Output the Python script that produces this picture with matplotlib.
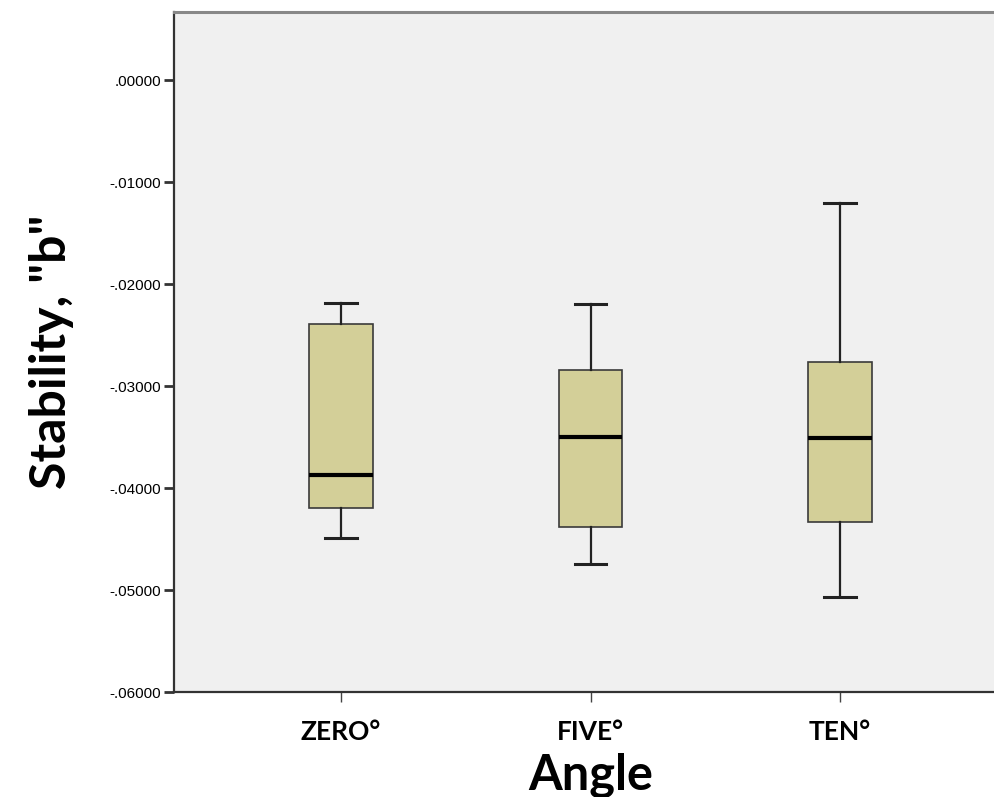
import matplotlib
matplotlib.use("Agg")
import matplotlib.pyplot as plt
from matplotlib.ticker import FuncFormatter, FixedLocator

categories = ["ZERO°", "FIVE°", "TEN°"]
whisker_low = [-0.0449, -0.04745, -0.05069]
q1 = [-0.04196, -0.04382, -0.04333]
median = [-0.03873, -0.03500, -0.03510]
q3 = [-0.02392, -0.02843, -0.02765]
whisker_high = [-0.02186, -0.02196, -0.01206]
yticks = [0.0, -0.01, -0.02, -0.03, -0.04, -0.05, -0.06]

W, H = 994, 797
fig = plt.figure(figsize=(W / 100, H / 100), dpi=100)
left, right, top, bottom = 174, 1007, 12, 692
ax = fig.add_axes([left / W, (H - bottom) / H, (right - left) / W, (bottom - top) / H])
ax.set_facecolor("#F0F0F0")

stats = []
for i, c in enumerate(categories):
    stats.append(dict(label=c, whislo=whisker_low[i], q1=q1[i], med=median[i],
                      q3=q3[i], whishi=whisker_high[i], fliers=[]))

positions = list(range(1, len(categories) + 1))
ax.bxp(stats, positions=positions, widths=0.255, capwidths=0.128,
       patch_artist=True, showfliers=False,
       boxprops=dict(facecolor="#D3CF98", edgecolor="#3a3a3a", linewidth=1.2),
       medianprops=dict(color="black", linewidth=3),
       whiskerprops=dict(color="#222222", linewidth=1.6),
       capprops=dict(color="#222222", linewidth=2.2))

ax.set_xlim(0.331, 3.669)
ax.set_ylim(-0.06, 0.00667)

ax.yaxis.set_major_locator(FixedLocator(yticks))


def fmt(v, pos):
    s = "%.5f" % v
    if abs(v) < 1e-12:
        return ".00000"
    return s.replace("0.", ".", 1)


ax.yaxis.set_major_formatter(FuncFormatter(fmt))
ax.set_xticks(positions)
ax.set_xticklabels(categories, fontfamily="Lato", fontweight="bold", fontsize=19)
ax.tick_params(axis="x", direction="out", length=7, width=1, color="#444444", pad=13)
ax.tick_params(axis="y", direction="out", length=7, width=2, color="#333333", pad=2,
               labelsize=11)
for lab in ax.get_yticklabels():
    lab.set_fontfamily("Liberation Sans")

for s in ["left", "bottom"]:
    ax.spines[s].set_color("#333333")
    ax.spines[s].set_linewidth(1.6)
ax.spines["top"].set_color("#888888")
ax.spines["top"].set_linewidth(2.2)
ax.spines["right"].set_visible(False)

ax.set_xlabel("Angle", fontfamily="Lato", fontweight="bold", fontsize=35, labelpad=6)
ax.set_ylabel('Stability, "b"', fontfamily="Lato", fontweight="bold", fontsize=36, labelpad=26)

fig.savefig("out.png", dpi=100)
